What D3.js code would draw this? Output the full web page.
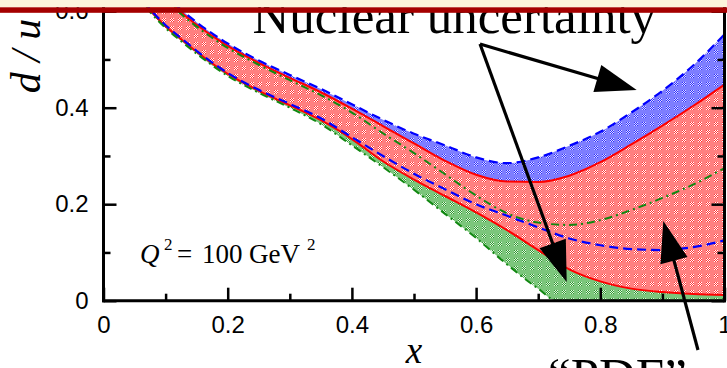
<!DOCTYPE html>
<html>
<head>
<meta charset="utf-8">
<script src="https://cdn.jsdelivr.net/npm/d3@7"></script>
<style>
  html, body { margin: 0; padding: 0; background: #fff; }
  svg { display: block; }
</style>
</head>
<body>
<svg id="chart" width="727" height="368"></svg>
<script>
// d/u ratio at Q^2 = 100 GeV^2: PDF error band (red) with nuclear-correction
// variations above (blue) and below (green).
const xs = [0.05, 0.075, 0.1, 0.125, 0.15, 0.2, 0.25, 0.3, 0.35, 0.4, 0.45, 0.5,
            0.55, 0.6, 0.65, 0.7, 0.75, 0.8, 0.85, 0.9, 0.95, 1.0];
const redUpper   = [0.720, 0.665, 0.628, 0.598, 0.572, 0.528, 0.493, 0.462, 0.432, 0.398, 0.362, 0.326,
                    0.290, 0.261, 0.247, 0.246, 0.259, 0.287, 0.324, 0.363, 0.404, 0.448];
const redLower   = [0.640, 0.602, 0.569, 0.542, 0.516, 0.470, 0.435, 0.405, 0.374, 0.335, 0.289, 0.251,
                    0.217, 0.183, 0.146, 0.105, 0.065, 0.040, 0.025, 0.018, 0.014, 0.012];
const blueUpper  = [0.725, 0.670, 0.633, 0.603, 0.577, 0.533, 0.498, 0.468, 0.439, 0.407, 0.375, 0.346,
                    0.322, 0.297, 0.285, 0.297, 0.321, 0.350, 0.390, 0.435, 0.488, 0.552];
const blueLower  = [0.642, 0.604, 0.571, 0.544, 0.518, 0.472, 0.437, 0.408, 0.378, 0.339, 0.300, 0.263,
                    0.231, 0.200, 0.176, 0.152, 0.129, 0.115, 0.107, 0.105, 0.111, 0.125];
const greenUpper = [0.716, 0.661, 0.624, 0.594, 0.568, 0.524, 0.489, 0.457, 0.426, 0.390, 0.347, 0.306,
                    0.262, 0.218, 0.181, 0.162, 0.157, 0.167, 0.188, 0.213, 0.241, 0.275];
// the lower green edge hits zero before x = 1, so it has its own grid
const greenLowX  = [0.05, 0.075, 0.1, 0.125, 0.15, 0.2, 0.25, 0.3, 0.35, 0.4, 0.45, 0.5,
                    0.55, 0.6, 0.65, 0.7, 0.73, 0.8, 0.9, 1.0];
const greenLowY  = [0.636, 0.598, 0.565, 0.538, 0.512, 0.466, 0.431, 0.400, 0.366, 0.322, 0.277, 0.230,
                    0.180, 0.130, 0.075, 0.025, 0, 0, 0, 0];

const xMajor = [0, 0.2, 0.4, 0.6, 0.8, 1.0];
const xMajorLabels = ["0", "0.2", "0.4", "0.6", "0.8", "1"];
const xMinor = [0.1, 0.3, 0.5, 0.7, 0.9];
const yMajor = [0, 0.2, 0.4, 0.6];
const yMajorLabels = ["0", "0.2", "0.4", "0.6"];
const yMinor = [0.1, 0.3, 0.5];

// annotation arrows (data coordinates)
const nuclearTail = [0.6063, 0.532];
const nuclearTips = [[0.8586, 0.4367], [0.7459, 0.0388]];
const pdfTail = [0.9573, -0.1022];
const pdfTip = [0.9015, 0.1652];

const W = 727, H = 368;
const svg = d3.select("#chart");

const x = d3.scaleLinear().domain([0, 1]).range([103.5, 724.5]);
const y = d3.scaleLinear().domain([0, 0.6]).range([300.7, 11.2]);
const yTop = y.invert(0);

// ---- fill patterns
const defs = svg.append("defs");
function makePattern(id, base, light, dark) {
  const p = defs.append("pattern").attr("id", id)
    .attr("patternUnits", "userSpaceOnUse").attr("width", 8).attr("height", 8);
  p.append("rect").attr("width", 8).attr("height", 8).attr("fill", base);
  for (let i = 0; i < 4; i++) {
    for (let j = 0; j < 4; j++) {
      p.append("rect").attr("x", 2 + i).attr("y", 2 + j).attr("width", 1).attr("height", 1)
        .attr("fill", (i + j) % 2 ? light : dark).attr("shape-rendering", "crispEdges");
    }
  }
}
makePattern("fillRed", "#ff8080", "#ffffff", "#ff3434");
makePattern("fillBlue", "#7e7eff", "#dcdcff", "#2e2eff");
makePattern("fillGreen", "#7cc67c", "#e0f2e0", "#2f9a2f");

defs.append("clipPath").attr("id", "plotClip")
  .append("rect").attr("x", x(0)).attr("y", 0).attr("width", x(1) - x(0)).attr("height", y(0));

const greenLowPts = greenLowX.map((v, i) => [v, greenLowY[i]]);
defs.append("clipPath").attr("id", "aboveGreenLow")
  .append("path")
  .attr("d", d3.area().curve(d3.curveMonotoneX)
    .x(d => x(d[0])).y0(d => y(d[1])).y1(() => y(yTop) - 5)(greenLowPts));

// ---- bands and curves
const plot = svg.append("g").attr("clip-path", "url(#plotClip)");

const band = (lo, hi) => d3.area().curve(d3.curveMonotoneX)
  .x((d, i) => x(xs[i])).y0((d, i) => y(lo[i])).y1((d, i) => y(hi[i]))(xs);
const curve = d3.line().curve(d3.curveMonotoneX).x(d => x(d[0])).y(d => y(d[1]));
const pts = arr => xs.map((v, i) => [v, arr[i]]);

plot.append("path").attr("d", band(xs.map(() => 0), greenUpper))
  .attr("fill", "url(#fillGreen)").attr("clip-path", "url(#aboveGreenLow)");
plot.append("path").attr("d", band(blueLower, blueUpper)).attr("fill", "url(#fillBlue)");
plot.append("path").attr("d", band(redLower, redUpper)).attr("fill", "url(#fillRed)");

const redStyle = s => s.attr("fill", "none").attr("stroke", "#ff0000").attr("stroke-width", 2);
const blueStyle = s => s.attr("fill", "none").attr("stroke", "#0000ff").attr("stroke-width", 2.2)
  .attr("stroke-dasharray", "9,5");
const greenStyle = s => s.attr("fill", "none").attr("stroke", "#118811").attr("stroke-width", 2)
  .attr("stroke-dasharray", "8,4,2,4");

plot.append("path").attr("d", curve(pts(redUpper))).call(redStyle);
plot.append("path").attr("d", curve(pts(redLower))).call(redStyle);
plot.append("path").attr("d", curve(pts(blueUpper))).call(blueStyle);
plot.append("path").attr("d", curve(pts(blueLower))).call(blueStyle);
plot.append("path").attr("d", curve(pts(greenUpper))).call(greenStyle);
plot.append("path").attr("d", curve(greenLowPts)).call(greenStyle);

// ---- axes
const tickFont = "'Liberation Sans', Arial, Helvetica, sans-serif";
function styleAxis(g) {
  g.select(".domain").remove();
  g.selectAll(".tick line").attr("stroke", "#000").attr("stroke-width", 2.5);
  g.selectAll(".tick text").attr("fill", "#000").style("font-family", tickFont).style("font-size", "24px");
}
svg.append("g").attr("transform", `translate(0,${y(0)})`)
  .call(d3.axisBottom(x).tickValues(xMajor).tickSize(-13).tickPadding(15)
    .tickFormat((d, i) => xMajorLabels[i])).call(styleAxis);
svg.append("g").attr("transform", `translate(0,${y(0)})`)
  .call(d3.axisBottom(x).tickValues(xMinor).tickSize(-7).tickFormat("")).call(styleAxis);
svg.append("g").attr("transform", `translate(${x(0)},0)`)
  .call(d3.axisLeft(y).tickValues(yMajor).tickSize(-13).tickPadding(15)
    .tickFormat((d, i) => yMajorLabels[i])).call(styleAxis);
svg.append("g").attr("transform", `translate(${x(0)},0)`)
  .call(d3.axisLeft(y).tickValues(yMinor).tickSize(-7).tickFormat("")).call(styleAxis);
svg.append("g").attr("transform", `translate(${x(1)},0)`)
  .call(d3.axisRight(y).tickValues(yMajor).tickSize(-13).tickFormat("")).call(styleAxis);
svg.append("g").attr("transform", `translate(${x(1)},0)`)
  .call(d3.axisRight(y).tickValues(yMinor).tickSize(-7).tickFormat("")).call(styleAxis);

const frame = svg.append("g").attr("stroke", "#000").attr("stroke-width", 3).attr("stroke-linecap", "square");
frame.append("line").attr("x1", x(0)).attr("x2", x(0)).attr("y1", y(0)).attr("y2", 0);
frame.append("line").attr("x1", x(0)).attr("x2", x(1)).attr("y1", y(0)).attr("y2", y(0));
frame.append("line").attr("x1", x(1)).attr("x2", x(1)).attr("y1", y(0)).attr("y2", 0);

// axis titles
const serif = "'Liberation Serif', 'Times New Roman', Times, serif";
svg.append("text").attr("x", x(0.5)).attr("y", 363).attr("text-anchor", "middle")
  .style("font-family", serif).style("font-style", "italic").style("font-size", "37px").text("x");
svg.append("text").attr("transform", "translate(40,56) rotate(-90)").attr("text-anchor", "middle")
  .style("font-family", serif).style("font-style", "italic").style("font-size", "42px")
  .attr("xml:space", "preserve").text("d / u");

// Q^2 label
const qx = x(0.0588), qy = y(0.0781);
const q = svg.append("text").attr("x", qx).attr("y", qy)
  .style("font-family", serif).style("font-size", "27px").attr("fill", "#000");
q.append("tspan").attr("x", qx).attr("y", qy).style("font-style", "italic").text("Q");
q.append("tspan").attr("x", qx + 24).attr("y", qy - 13).style("font-size", "17px").text("2");
q.append("tspan").attr("x", qx + 37).attr("y", qy).text("=");
q.append("tspan").attr("x", qx + 62).attr("y", qy).text("100");
q.append("tspan").attr("x", qx + 109).attr("y", qy).text("GeV");
q.append("tspan").attr("x", qx + 167).attr("y", qy - 13).style("font-size", "17px").text("2");

// ---- annotations
const ann = svg.append("g");
function arrow(tail, tip) {
  const p0 = [x(tail[0]), y(tail[1])], p1 = [x(tip[0]), y(tip[1])];
  const dx = p1[0] - p0[0], dy = p1[1] - p0[1], L = Math.hypot(dx, dy);
  const ux = dx / L, uy = dy / L, headLen = 41, halfW = 14;
  const bx = p1[0] - ux * headLen, by = p1[1] - uy * headLen;
  ann.append("line").attr("x1", p0[0]).attr("y1", p0[1])
    .attr("x2", bx + ux * 3).attr("y2", by + uy * 3)
    .attr("stroke", "#000").attr("stroke-width", 3.2);
  ann.append("path").attr("fill", "#000")
    .attr("d", `M${p1[0]},${p1[1]}L${bx - uy * halfW},${by + ux * halfW}L${bx + uy * halfW},${by - ux * halfW}Z`);
}
nuclearTips.forEach(t => arrow(nuclearTail, t));
arrow(pdfTail, pdfTip);

ann.append("text").attr("x", x(0.24)).attr("y", y(0.5548))
  .style("font-family", serif).style("font-size", "51px").attr("fill", "#000")
  .text("Nuclear uncertainty");
ann.append("text").attr("x", x(0.7158)).attr("y", y(-0.1913))
  .style("font-family", serif).style("font-size", "51px").attr("fill", "#000")
  .text("\u201CPDF\u201D");

// ---- header strip
svg.append("rect").attr("x", 0).attr("y", 0).attr("width", W).attr("height", 7.3).attr("fill", "#fcf4dc");
svg.append("rect").attr("x", 0).attr("y", 7.3).attr("width", W).attr("height", 5.5).attr("fill", "#a50000");
</script>
</body>
</html>
